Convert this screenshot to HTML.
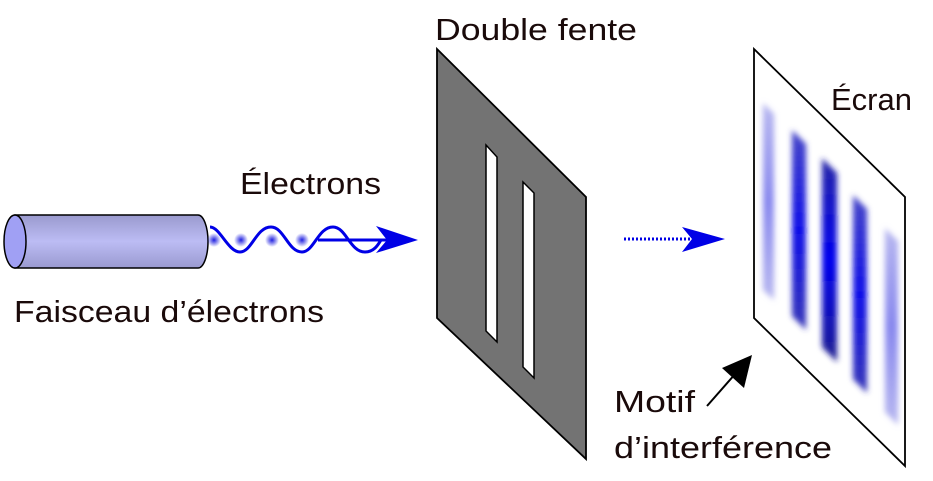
<!DOCTYPE html>
<html><head><style>body{margin:0;background:#fff}svg{display:block}text{font-family:"Liberation Sans",sans-serif;font-size:31px;fill:#1a0a0a}</style></head>
<body>
<svg width="933" height="481" viewBox="0 0 933 481">
<defs>
<linearGradient id="cyl" x1="0" y1="0" x2="0" y2="1">
<stop offset="0" stop-color="#9a9ace"/><stop offset="0.5" stop-color="#bcbcf4"/><stop offset="1" stop-color="#9a9ad0"/></linearGradient>
<radialGradient id="dot"><stop offset="0" stop-color="#2020e0"/><stop offset="1" stop-color="#2020e0" stop-opacity="0"/></radialGradient>
<linearGradient id="v1" x1="0" y1="0" x2="0" y2="1"><stop offset="0" stop-color="#b8b8f0"/><stop offset="0.5" stop-color="#8888ee"/><stop offset="1" stop-color="#b8b8f0"/></linearGradient>
<linearGradient id="v2" x1="0" y1="0" x2="0" y2="1"><stop offset="0" stop-color="#4848c8"/><stop offset="0.5" stop-color="#1010e8"/><stop offset="1" stop-color="#3838b8"/></linearGradient>
<linearGradient id="v3" x1="0" y1="0" x2="0" y2="1"><stop offset="0" stop-color="#2828a8"/><stop offset="0.5" stop-color="#0000ee"/><stop offset="1" stop-color="#202090"/></linearGradient>
<filter id="bl" x="-50%" y="-10%" width="200%" height="120%"><feGaussianBlur stdDeviation="3"/></filter>
</defs>
<!-- cylinder -->
<path d="M15 215 H198 A10 26.5 0 0 1 198 268 H15 Z" fill="url(#cyl)" stroke="#000" stroke-width="1.5"/>
<ellipse cx="15" cy="241.5" rx="11" ry="26.5" fill="#a0a0f4" stroke="#000" stroke-width="1.5"/>
<circle cx="214" cy="240" r="7" fill="url(#dot)"/>
<circle cx="241" cy="240" r="7" fill="url(#dot)"/>
<circle cx="272" cy="240" r="7" fill="url(#dot)"/>
<circle cx="302" cy="240" r="7" fill="url(#dot)"/>
<path d="M210 227 C220 227,228 252,240 252 C252 252,256 227,271 227 C284 227,288 252,302 252 C314 252,318 227,333 227 C346 227,350 252,365 252 C374 252,378 245,381 240" fill="none" stroke="#0000e6" stroke-width="3"/>
<line x1="318" y1="240" x2="395" y2="240" stroke="#0000e6" stroke-width="3"/>
<path d="M376 226 L418 240 L376 253 L387 240 Z" fill="#0000e6"/>
<!-- double slit -->
<path d="M437 49 L586 197 L586 459 L437 318 Z" fill="#737373" stroke="#000" stroke-width="1.8"/>
<path d="M486 145 L497 157 L497 342 L486 331 Z" fill="#fff" stroke="#000" stroke-width="1.5"/>
<path d="M523 182 L534 193 L534 378 L523 367 Z" fill="#fff" stroke="#000" stroke-width="1.5"/>
<line x1="624" y1="239" x2="694" y2="239" stroke="#0000e6" stroke-width="3" stroke-dasharray="2 2"/>
<path d="M682 227 L725 239 L682 252 L692 239 Z" fill="#0000e6"/>
<!-- screen -->
<path d="M754 49 L905 197 L905 466 L754 318 Z" fill="#fff" stroke="#000" stroke-width="1.8"/>
<g filter="url(#bl)">
<path d="M763 103 L774 114 L774 300 L763 290 Z" fill="url(#v1)"/>
<path d="M792 130 L806 144 L806 330 L792 316 Z" fill="url(#v2)"/>
<path d="M822 158 L837 173 L837 362 L822 347 Z" fill="url(#v3)"/>
<path d="M853 195 L867 209 L867 393 L853 379 Z" fill="url(#v2)"/>
<path d="M885 228 L898 241 L898 425 L885 412 Z" fill="url(#v1)"/>
</g>
<line x1="707" y1="406" x2="736" y2="373" stroke="#000" stroke-width="2"/>
<path d="M752 355 L744 388 L722 368 Z" fill="#000"/>
<text x="435" y="40" textLength="202" lengthAdjust="spacingAndGlyphs">Double fente</text>
<text x="240" y="194" textLength="141" lengthAdjust="spacingAndGlyphs">Électrons</text>
<text x="14" y="322" textLength="310" lengthAdjust="spacingAndGlyphs">Faisceau d’électrons</text>
<text x="831" y="110" textLength="81" lengthAdjust="spacingAndGlyphs">Écran</text>
<text x="614" y="412" textLength="81" lengthAdjust="spacingAndGlyphs">Motif</text>
<text x="614" y="458" textLength="218" lengthAdjust="spacingAndGlyphs">d’interférence</text>
</svg>
</body></html>
